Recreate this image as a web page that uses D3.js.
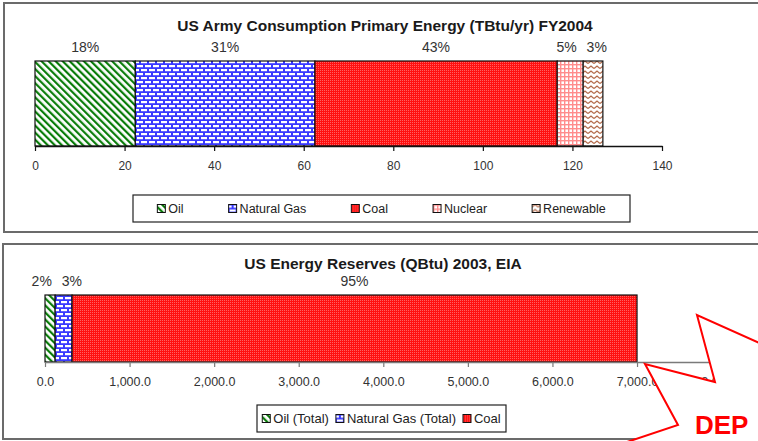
<!DOCTYPE html>
<html><head><meta charset="utf-8">
<script src="https://cdn.jsdelivr.net/npm/d3@7"></script>
<style>
html,body{margin:0;padding:0;background:#fff;}
svg{display:block;font-family:"Liberation Sans",Arial,sans-serif;}
</style></head>
<body>
<svg id="c" width="758" height="441"></svg>
<script>
// ---- data ----
const topTitle = "US Army Consumption Primary Energy (TBtu/yr) FY2004";
const topCategories = ["Oil", "Natural Gas", "Coal", "Nuclear", "Renewable"];
const topValues = [22.4, 40.1, 54.1, 5.8, 4.4];
const topPercents = ["18%", "31%", "43%", "5%", "3%"];
const topTicks = [0, 20, 40, 60, 80, 100, 120, 140];

const botTitle = "US Energy Reserves (QBtu) 2003, EIA";
const botCategories = ["Oil (Total)", "Natural Gas (Total)", "Coal"];
const botValues = [120, 200, 6680];
const botPercents = ["2%", "3%", "95%"];
const botTicks = [0, 1000, 2000, 3000, 4000, 5000, 6000, 7000, 8000];

const topPatterns = ["p-oil", "p-gas", "p-coal", "p-nuc", "p-ren"];
const botPatterns = ["p-oil", "p-gas", "p-coal"];

const calloutText = "DEP";

const svg = d3.select("#c");
const defs = svg.append("defs");

// ---- patterns ----
function pat(id, w, h, build, transform) {
  const p = defs.append("pattern").attr("id", id).attr("patternUnits", "userSpaceOnUse")
    .attr("width", w).attr("height", h);
  if (transform) p.attr("patternTransform", transform);
  build(p);
}
pat("p-oil", 5, 5, p => {
  p.append("rect").attr("width", 5).attr("height", 5).attr("fill", "#fff");
  p.append("rect").attr("width", 2.2).attr("height", 5).attr("fill", "#0a7d0a");
}, "rotate(-45)");
pat("p-gas", 8, 8, p => {
  p.append("rect").attr("width", 8).attr("height", 8).attr("fill", "#3a3aff");
  p.append("rect").attr("x", 1).attr("y", 1).attr("width", 6).attr("height", 2.2).attr("fill", "#fff");
  p.append("rect").attr("x", -3).attr("y", 5).attr("width", 6).attr("height", 2.2).attr("fill", "#fff");
  p.append("rect").attr("x", 5).attr("y", 5).attr("width", 6).attr("height", 2.2).attr("fill", "#fff");
});
pat("p-coal", 2, 2, p => {
  p.append("rect").attr("width", 2).attr("height", 2).attr("fill", "#ff1010");
  p.append("rect").attr("width", 1).attr("height", 1).attr("fill", "#ff6060");
});
pat("p-nuc", 4, 4, p => {
  p.append("rect").attr("width", 4).attr("height", 4).attr("fill", "#fff");
  p.append("rect").attr("width", 4).attr("height", 1.4).attr("fill", "#ff8c8c");
  p.append("rect").attr("width", 1.4).attr("height", 4).attr("fill", "#ff8c8c");
});
pat("p-ren", 6, 5, p => {
  p.append("rect").attr("width", 6).attr("height", 5).attr("fill", "#fff");
  p.append("path").attr("d", "M0,3.5 L3,1 L6,3.5").attr("fill", "none")
    .attr("stroke", "#b36a4a").attr("stroke-width", 1.3);
});

// ---- panel frames ----
svg.append("rect").attr("x", 4).attr("y", 3).attr("width", 800).attr("height", 229)
  .attr("fill", "#fff").attr("stroke", "#6b6b6b").attr("stroke-width", 2);
svg.append("rect").attr("x", 3).attr("y", 244).attr("width", 800).attr("height", 195)
  .attr("fill", "#fff").attr("stroke", "#6b6b6b").attr("stroke-width", 2);

function textWidth(str, size, weight) {
  const t = svg.append("text").attr("font-size", size).attr("font-weight", weight || "normal").text(str);
  const w = t.node().getComputedTextLength();
  t.remove();
  return w;
}

function drawChart(cfg) {
  const g = svg.append("g");
  const x = d3.scaleLinear().domain(cfg.domain).range(cfg.range);
  // title
  g.append("text").attr("x", cfg.titleX).attr("y", cfg.titleY).attr("text-anchor", "middle")
    .attr("font-size", 15.5).attr("font-weight", "bold").attr("fill", "#1a1a1a").text(cfg.title);

  // stacked segments
  const stack = [];
  let acc = 0;
  cfg.values.forEach((v, i) => { stack.push({ i, x0: acc, x1: acc + v }); acc += v; });

  g.selectAll("rect.seg").data(stack).join("rect").attr("class", "seg")
    .attr("x", d => x(d.x0)).attr("width", d => x(d.x1) - x(d.x0))
    .attr("y", cfg.barTop).attr("height", cfg.barBottom - cfg.barTop)
    .attr("fill", d => `url(#${cfg.patterns[d.i]})`)
    .attr("stroke", "#111").attr("stroke-width", 1.2);

  // axis
  const axis = d3.axisBottom(x).tickValues(cfg.ticks).tickFormat(cfg.fmt)
    .tickSize(5).tickSizeOuter(0).tickPadding(10);
  const ag = g.append("g").attr("transform", `translate(0,${cfg.barBottom})`).call(axis);
  ag.select(".domain").attr("stroke", cfg.axisColor).attr("stroke-width", 1.3);
  ag.selectAll(".tick line").attr("stroke", cfg.axisColor).attr("stroke-width", 1.2);
  ag.selectAll(".tick text").attr("font-size", cfg.tickSize).attr("fill", "#333")
    .attr("font-family", "Liberation Sans, Arial, sans-serif");

  // percent labels (centered, pushed apart on overlap)
  const labs = stack.map(d => ({
    text: cfg.percents[d.i],
    cx: (x(d.x0) + x(d.x1)) / 2,
    w: textWidth(cfg.percents[d.i], 14)
  }));
  for (let k = 0; k < 10; k++) {
    for (let i = 1; i < labs.length; i++) {
      const a = labs[i - 1], b = labs[i];
      const need = a.w / 2 + b.w / 2 + 10;
      const have = b.cx - a.cx;
      if (have < need) { const s = (need - have) / 2; a.cx -= s; b.cx += s; }
    }
  }
  g.selectAll("text.pct").data(labs).join("text").attr("class", "pct")
    .attr("x", d => d.cx).attr("y", cfg.barTop - 9).attr("text-anchor", "middle")
    .attr("font-size", 14).attr("fill", "#333").text(d => d.text);

  // legend
  const lg = g.append("g");
  lg.append("rect").attr("x", cfg.leg.x).attr("y", cfg.leg.y).attr("width", cfg.leg.w).attr("height", cfg.leg.h)
    .attr("fill", "#fff").attr("stroke", "#222").attr("stroke-width", 1.2);
  const items = cfg.categories.map((c, i) => ({ c, i, tw: textWidth(c, cfg.leg.fs) }));
  const itemW = d => 11 + d.tw;
  const total = d3.sum(items, itemW) + cfg.leg.gap * (items.length - 1);
  let cx = cfg.leg.x + (cfg.leg.w - total) / 2;
  const cy = cfg.leg.y + cfg.leg.h / 2;
  items.forEach(d => { d.x = cx; cx += itemW(d) + cfg.leg.gap; });
  const it = lg.selectAll("g.item").data(items).join("g").attr("class", "item")
    .attr("transform", d => `translate(${d.x},${cy})`);
  it.append("rect").attr("x", 0).attr("y", -4).attr("width", 8).attr("height", 8)
    .attr("fill", d => `url(#${cfg.patterns[d.i]})`).attr("stroke", "#111").attr("stroke-width", 1);
  it.append("text").attr("x", 11).attr("y", 0).attr("dy", "0.36em")
    .attr("font-size", cfg.leg.fs).attr("fill", "#222").text(d => d.c);
}

drawChart({
  title: topTitle, titleX: 385, titleY: 31,
  domain: [0, 140], range: [35, 662], barTop: 61, barBottom: 146,
  values: topValues, percents: topPercents, patterns: topPatterns, categories: topCategories,
  ticks: topTicks, fmt: d3.format("d"), tickSize: 12, axisColor: "#111",
  leg: { x: 133, y: 195, w: 497, h: 27, fs: 12.5, gap: 45 }
});
drawChart({
  title: botTitle, titleX: 383, titleY: 269,
  domain: [0, 8000], range: [45, 721.6], barTop: 295, barBottom: 362,
  values: botValues, percents: botPercents, patterns: botPatterns, categories: botCategories,
  ticks: botTicks, fmt: d3.format(",.1f"), tickSize: 12.5, axisColor: "#7a7a7a",
  leg: { x: 257, y: 405, w: 249, h: 27, fs: 13, gap: 7 }
});

// ---- decorative callout (starburst) overlay ----
svg.append("path").attr("d", "M775,350 L697,315 L715,382 L645,364 L678,425 L612,447 L775,447 Z")
  .attr("fill", "#fff").attr("stroke", "none");
svg.append("path").attr("d", "M775,350 L697,315 L715,382 L645,364 L678,425 L612,447")
  .attr("fill", "none").attr("stroke", "#ff0000").attr("stroke-width", 2).attr("stroke-linejoin", "miter");
svg.append("text").attr("x", 695).attr("y", 434).attr("font-size", 26).attr("font-weight", "bold")
  .attr("fill", "#ff0000").text(calloutText);
</script>
</body></html>
